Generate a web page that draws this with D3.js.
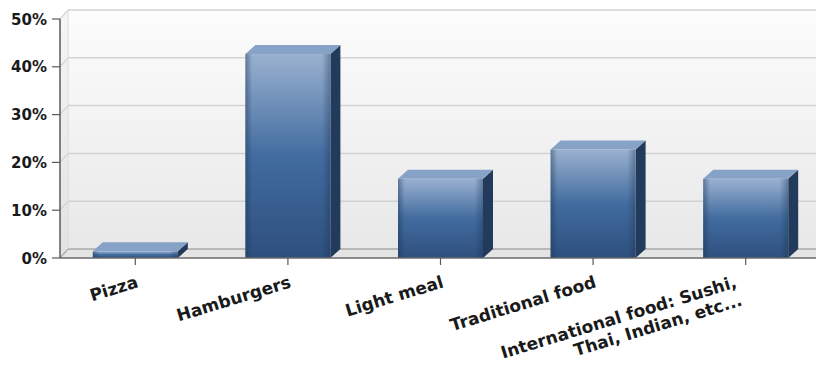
<!DOCTYPE html>
<html>
<head>
<meta charset="utf-8">
<script src="https://cdn.jsdelivr.net/npm/d3@7"></script>
<style>
  html, body { margin: 0; padding: 0; background: #ffffff; }
  svg { display: block; }
  text { font-family: "DejaVu Sans", Verdana, sans-serif; font-weight: bold; fill: #1a1a1a; }
</style>
</head>
<body>
<svg id="chart" width="816" height="370"></svg>
<script>
const categories = ["Pizza", "Hamburgers", "Light meal", "Traditional food", "International food: Sushi,\nThai, Indian, etc..."];
const values = [1.4, 42.7, 16.6, 22.7, 16.6];
const yTicks = [0, 10, 20, 30, 40, 50];

const W = 816, H = 370;
const svg = d3.select("#chart");
const defs = svg.append("defs");

const axisX = 60, plotRight = 816;
const wall = { dx: 8, dy: -9 };
const bar3d = { dx: 10, dy: -9 };

const y = d3.scaleLinear().domain([0, 50]).range([258, 19]);
const x = d3.scaleBand().domain(categories).range([59, 822]).paddingInner(0.443).paddingOuter(0.2215);

// gradients
const wallGrad = defs.append("linearGradient").attr("id", "wallGrad").attr("x1", 0).attr("y1", 0).attr("x2", 0).attr("y2", 1);
wallGrad.append("stop").attr("offset", "0%").attr("stop-color", "#fcfcfc");
wallGrad.append("stop").attr("offset", "100%").attr("stop-color", "#e8e8e8");

const sideGrad = defs.append("linearGradient").attr("id", "sideGrad").attr("x1", 0).attr("y1", 0).attr("x2", 0).attr("y2", 1);
sideGrad.append("stop").attr("offset", "0%").attr("stop-color", "#f6f6f6");
sideGrad.append("stop").attr("offset", "100%").attr("stop-color", "#e2e2e2");

const frontGrad = defs.append("linearGradient").attr("id", "frontGrad").attr("x1", 0).attr("y1", 0).attr("x2", 0).attr("y2", 1);
frontGrad.append("stop").attr("offset", "0%").attr("stop-color", "#9ab1d0");
frontGrad.append("stop").attr("offset", "50%").attr("stop-color", "#426c9f");
frontGrad.append("stop").attr("offset", "100%").attr("stop-color", "#2d4f7e");

const edgeGrad = defs.append("linearGradient").attr("id", "edgeGrad").attr("x1", 0).attr("y1", 0).attr("x2", 1).attr("y2", 0);
edgeGrad.append("stop").attr("offset", "0%").attr("stop-color", "#1d3350").attr("stop-opacity", 0.45);
edgeGrad.append("stop").attr("offset", "8%").attr("stop-color", "#1d3350").attr("stop-opacity", 0);
edgeGrad.append("stop").attr("offset", "90%").attr("stop-color", "#1d3350").attr("stop-opacity", 0);
edgeGrad.append("stop").attr("offset", "100%").attr("stop-color", "#1d3350").attr("stop-opacity", 0.4);

const y0 = y(0), yTop = y(50);

// back wall
svg.append("rect")
  .attr("x", axisX + wall.dx).attr("y", yTop + wall.dy)
  .attr("width", plotRight - axisX - wall.dx).attr("height", y0 - yTop)
  .attr("fill", "url(#wallGrad)");
// side wall
svg.append("polygon")
  .attr("points", [[axisX, yTop], [axisX + wall.dx, yTop + wall.dy], [axisX + wall.dx, y0 + wall.dy], [axisX, y0]].map(p => p.join(",")).join(" "))
  .attr("fill", "url(#sideGrad)");
// floor
svg.append("polygon")
  .attr("points", [[axisX, y0], [axisX + wall.dx, y0 + wall.dy], [plotRight, y0 + wall.dy], [plotRight, y0]].map(p => p.join(",")).join(" "))
  .attr("fill", "#e4e4e4");

// gridlines
const grid = svg.append("g");
yTicks.forEach(t => {
  const yy = y(t);
  grid.append("line")
    .attr("x1", axisX + wall.dx).attr("x2", plotRight)
    .attr("y1", yy + wall.dy).attr("y2", yy + wall.dy)
    .attr("stroke", t === 0 ? "#a8a8a8" : "#d2d2d2").attr("stroke-width", 1.5);
  grid.append("line")
    .attr("x1", axisX).attr("y1", yy)
    .attr("x2", axisX + wall.dx).attr("y2", yy + wall.dy)
    .attr("stroke", t === 0 ? "#a8a8a8" : "#d2d2d2").attr("stroke-width", 1.2);
});
grid.append("line")
  .attr("x1", axisX + wall.dx).attr("x2", axisX + wall.dx)
  .attr("y1", yTop + wall.dy).attr("y2", y0 + wall.dy)
  .attr("stroke", "#dcdcdc").attr("stroke-width", 1);

// bars
const bars = svg.append("g");
categories.forEach((c, i) => {
  const v = values[i];
  const bx = x(c), bw = x.bandwidth();
  const yv = y(v);
  const g = bars.append("g");
  g.append("polygon")
    .attr("points", [[bx + bw, yv], [bx + bw + bar3d.dx, yv + bar3d.dy], [bx + bw + bar3d.dx, y0 + bar3d.dy], [bx + bw, y0]].map(p => p.join(",")).join(" "))
    .attr("fill", "#223a5b");
  g.append("polygon")
    .attr("points", [[bx, yv], [bx + bar3d.dx, yv + bar3d.dy], [bx + bw + bar3d.dx, yv + bar3d.dy], [bx + bw, yv]].map(p => p.join(",")).join(" "))
    .attr("fill", "#86a2c7");
  g.append("rect").attr("x", bx).attr("y", yv).attr("width", bw).attr("height", y0 - yv)
    .attr("fill", "url(#frontGrad)");
  g.append("rect").attr("x", bx).attr("y", yv).attr("width", bw).attr("height", y0 - yv)
    .attr("fill", "url(#edgeGrad)");
});

// y axis
const yAxisG = svg.append("g");
yAxisG.append("line").attr("x1", axisX).attr("x2", axisX).attr("y1", yTop).attr("y2", y0)
  .attr("stroke", "#5a5a5a").attr("stroke-width", 1.5);
yTicks.forEach(t => {
  yAxisG.append("line").attr("x1", axisX - 8).attr("x2", axisX).attr("y1", y(t)).attr("y2", y(t))
    .attr("stroke", "#5a5a5a").attr("stroke-width", 1.2);
  yAxisG.append("text").attr("x", axisX - 13).attr("y", y(t) + 5.5)
    .attr("text-anchor", "end").attr("font-size", 15).text(t + "%");
});

// x axis
const xAxisG = svg.append("g");
xAxisG.append("line").attr("x1", axisX).attr("x2", plotRight).attr("y1", y0).attr("y2", y0)
  .attr("stroke", "#6a6a6a").attr("stroke-width", 1.5);
categories.forEach(c => {
  const cx = x(c) + x.bandwidth() / 2;
  xAxisG.append("line").attr("x1", cx).attr("x2", cx).attr("y1", y0).attr("y2", y0 + 7)
    .attr("stroke", "#5a5a5a").attr("stroke-width", 1.2);
  const lines = c.split("\n");
  const ax = cx + 4 - 12 * (lines.length - 1);
  const t = xAxisG.append("text")
    .attr("transform", `translate(${ax},${y0 + 29}) rotate(-17)`)
    .attr("text-anchor", "end").attr("font-size", 17);
  lines.forEach((ln, k) => {
    t.append("tspan").attr("x", 0).attr("dy", k === 0 ? 0 : "1.12em").text(ln);
  });
});
</script>
</body>
</html>
